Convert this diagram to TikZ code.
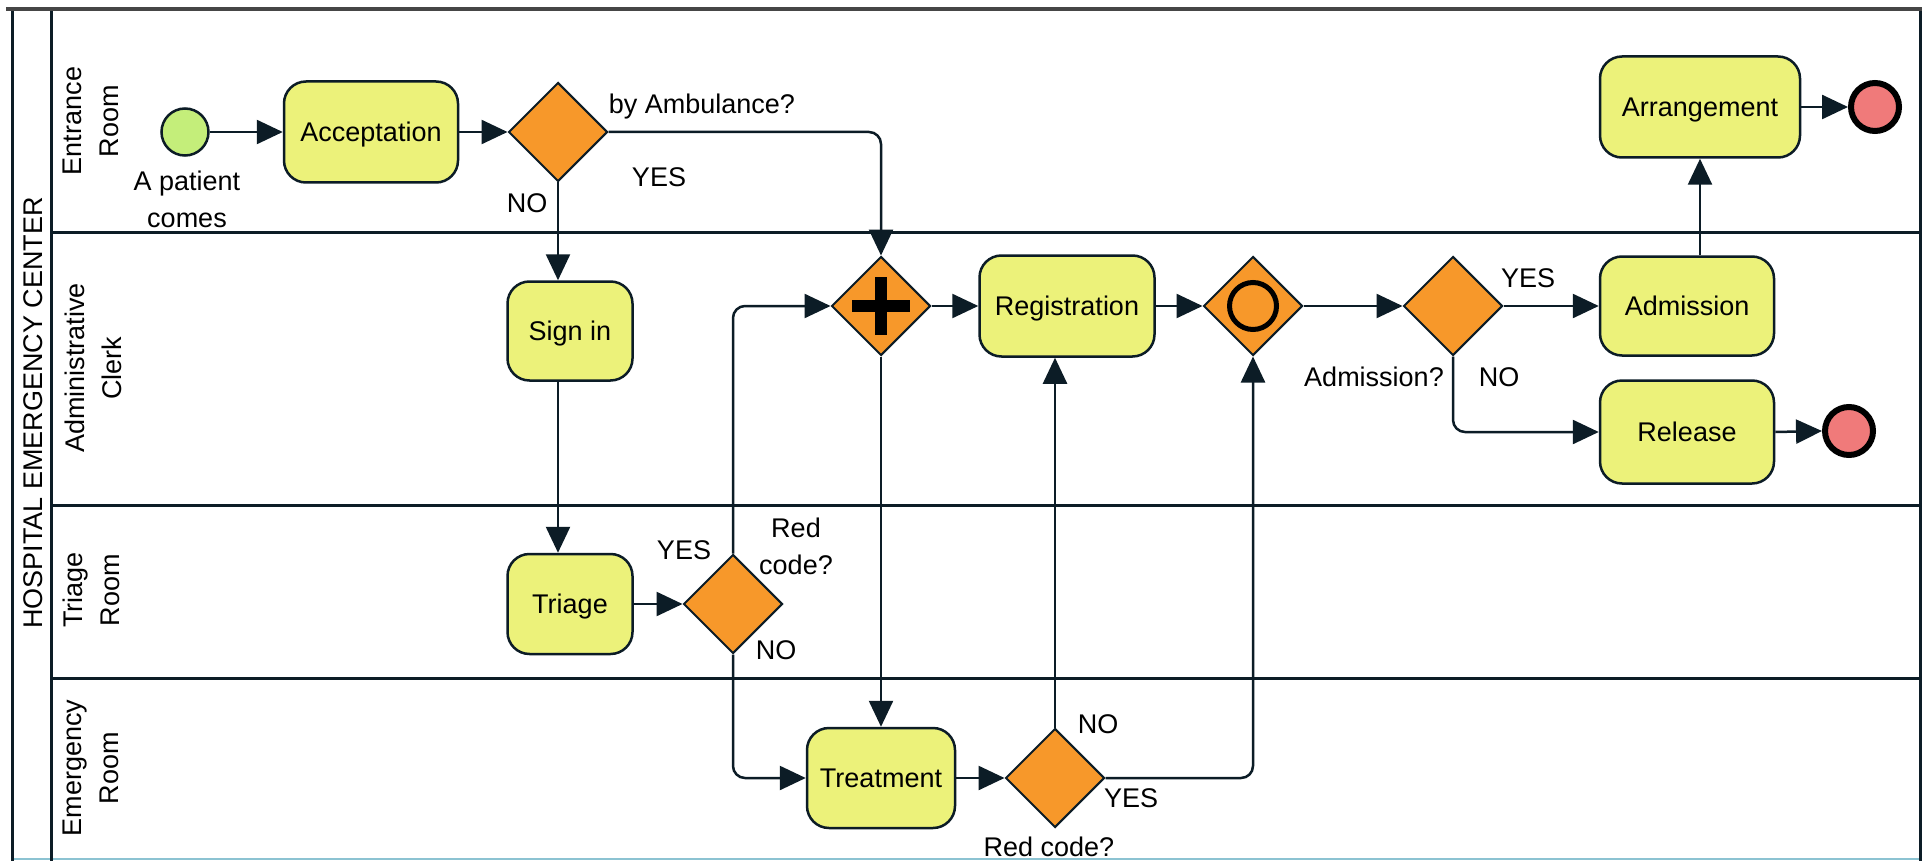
\documentclass[tikz,border=0pt]{standalone}
\usepackage{fontspec}
\setmainfont{Liberation Sans}
\usetikzlibrary{shapes.geometric,arrows.meta}
\definecolor{lc}{RGB}{12,28,38}
\definecolor{taskfill}{RGB}{236,242,122}
\definecolor{gwfill}{RGB}{247,152,42}
\definecolor{startfill}{RGB}{196,238,122}
\definecolor{endfill}{RGB}{240,122,122}
\definecolor{halo}{RGB}{140,195,210}
\definecolor{topgray}{RGB}{70,70,70}
\begin{document}
\begin{tikzpicture}[x=1pt,y=-1pt,
  every node/.style={font=\fontsize{27}{37}\selectfont, text=black},
  capc/.style={text height=19.5pt, text depth=0pt},
  task/.style={draw=lc, fill=taskfill, line width=2.5pt, rounded corners=22pt, inner sep=0pt, align=center, capc},
  gateway/.style={diamond, aspect=1, draw=lc, fill=gwfill, line width=2pt, minimum width=99pt, minimum height=99pt, inner sep=0pt},
  flow/.style={draw=lc, line width=2.5pt, rounded corners=12pt, -{Triangle[length=26pt,width=24pt]}},
  lane/.style={draw=lc, line width=3pt},
  lbl/.style={inner sep=0pt, align=center},
  slbl/.style={inner sep=0pt, capc},
  startev/.style={circle, draw=lc, fill=startfill, line width=2.5pt, minimum size=47pt, inner sep=0pt},
  endev/.style={circle, draw=black, fill=endfill, line width=6pt, minimum size=48pt, inner sep=0pt},
]
\useasboundingbox (0,0) rectangle (1929,861);
\fill[white] (0,0) rectangle (1929,861);
% pool and lanes
\draw[halo, line width=2pt] (12,859) -- (1920,859);
\draw[lane] (12,10) -- (12,861);
\draw[lane] (51,10) -- (51,861);
\draw[lane] (1920,10) -- (1920,861);
\draw[lane] (51,232) -- (1920,232);
\draw[lane] (51,505) -- (1920,505);
\draw[lane] (51,678) -- (1920,678);
\draw[topgray, line width=4pt] (6,9) -- (1922,9);
% titles
\node[lbl, rotate=90] (title) at (33,413) {HOSPITAL EMERGENCY CENTER};
\node[lbl, rotate=90] (lane1) at (91,121) {Entrance\\Room};
\node[lbl, rotate=90] (lane2) at (93,368) {Administrative\\Clerk};
\node[lbl, rotate=90] (lane3) at (91,590) {Triage\\Room};
\node[lbl, rotate=90] (lane4) at (91,768) {Emergency\\Room};
% events
\node[startev] (start) at (185,132) {};
\node[endev] (end1) at (1875,107) {};
\node[endev] (end2) at (1849,431) {};
% tasks
\node[task, minimum width=174pt, minimum height=101pt] (acc) at (371,132) {Acceptation};
\node[task, minimum width=125pt, minimum height=99pt] (signin) at (570,331) {Sign in};
\node[task, minimum width=125pt, minimum height=100pt] (triage) at (570,604) {Triage};
\node[task, minimum width=148pt, minimum height=100pt] (treat) at (881,778) {Treatment};
\node[task, minimum width=175pt, minimum height=101pt] (reg) at (1067,306) {Registration};
\node[task, minimum width=174pt, minimum height=99pt] (adm) at (1687,306) {Admission};
\node[task, minimum width=200pt, minimum height=101pt] (arr) at (1700,107) {Arrangement};
\node[task, minimum width=174pt, minimum height=103pt] (rel) at (1687,432) {Release};
% gateways
\node[gateway] (gw1) at (558,132) {};
\node[gateway] (plus) at (881,306) {};
\node[fill=black, minimum width=58pt, minimum height=12pt, inner sep=0pt] (plush) at (plus) {};
\node[fill=black, minimum width=12pt, minimum height=58pt, inner sep=0pt] (plusv) at (plus) {};
\node[gateway] (cgw) at (1253,306) {};
\node[circle, draw=black, line width=5pt, minimum size=47pt, inner sep=0pt] (ring) at (cgw) {};
\node[gateway] (admq) at (1453,306) {};
\node[gateway] (rc1) at (733,604) {};
\node[gateway] (rc2) at (1055,778) {};
% labels
\node[lbl] (tpat) at (187,199) {A patient\\comes};
\node[slbl] (tamb) at (702,104) {by Ambulance?};
\node[slbl] (tyes1) at (659,177) {YES};
\node[slbl] (tno1) at (527,203) {NO};
\node[slbl] (tyes2) at (1528,278) {YES};
\node[slbl] (tno2) at (1499,377) {NO};
\node[slbl] (tadmq) at (1374,377) {Admission?};
\node[slbl] (tyes3) at (684,550) {YES};
\node[lbl] (trc1) at (796,546) {Red\\code?};
\node[slbl] (tno3) at (776,650) {NO};
\node[slbl] (tno4) at (1098,724) {NO};
\node[slbl] (tyes4) at (1131,798) {YES};
\node[slbl] (trc2) at (1049,847) {Red code?};
% flows
\draw[flow] (start) -- (acc);
\draw[flow] (acc) -- (gw1);
\draw[flow] (gw1.east) -| (plus.north);
\draw[flow] (gw1.south) -- (gw1.south |- signin.north);
\draw[flow] (signin.south -| gw1.south) -- (triage.north -| gw1.south);
\draw[flow] (triage.east) -- (rc1.west);
\draw[flow] (rc1.north) |- (plus.west);
\draw[flow] (rc1.south) |- (treat.west);
\draw[flow] (plus.south) -- (treat.north);
\draw[flow] (treat.east) -- (rc2.west);
\draw[flow] (rc2.north) -- (rc2.north |- reg.south);
\draw[flow] (rc2.east) -| (cgw.south);
\draw[flow] (plus.east) -- (reg.west);
\draw[flow] (reg.east) -- (cgw.west);
\draw[flow] (cgw.east) -- (admq.west);
\draw[flow] (admq.east) -- (adm.west);
\draw[flow] (admq.south) |- (rel.west);
\draw[flow] (adm.north -| arr.south) -- (arr.south);
\draw[flow] (arr.east) -- (end1.west);
\draw[flow] (rel.east) -- (end2.west);
\end{tikzpicture}
\end{document}
